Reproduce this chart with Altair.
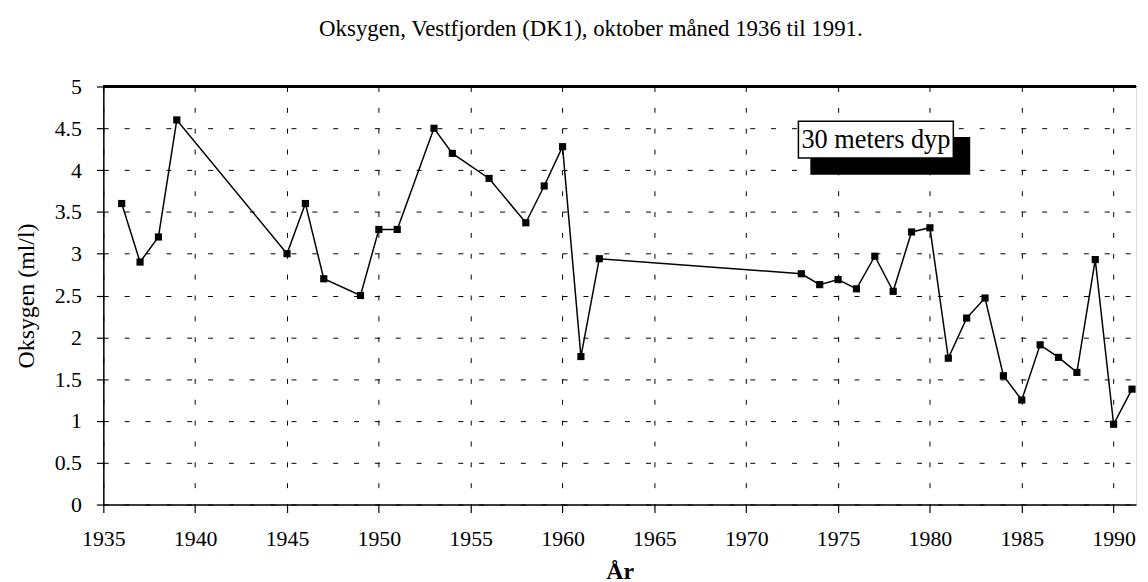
import altair as alt
import pandas as pd

years = [1936, 1937, 1938, 1939, 1945, 1946, 1947, 1949, 1950, 1951, 1953, 1954,
         1956, 1958, 1959, 1960, 1961, 1962, 1973, 1974, 1975, 1976, 1977, 1978,
         1979, 1980, 1981, 1982, 1983, 1984, 1985, 1986, 1987, 1988, 1989, 1990, 1991]
oxygen = [3.6, 2.9, 3.2, 4.6, 3.0, 3.6, 2.7, 2.5, 3.29, 3.29, 4.5, 4.2,
          3.9, 3.37, 3.81, 4.28, 1.77, 2.94, 2.76, 2.63, 2.69, 2.58, 2.97, 2.55,
          3.26, 3.31, 1.75, 2.23, 2.47, 1.54, 1.25, 1.91, 1.76, 1.58, 2.93, 0.96, 1.38]
x_ticks = [1935, 1940, 1945, 1950, 1955, 1960, 1965, 1970, 1975, 1980, 1985, 1990]
y_ticks = [0, 0.5, 1, 1.5, 2, 2.5, 3, 3.5, 4, 4.5, 5]
legend_label = ["30 meters dyp"]

df = pd.DataFrame({"year": years, "oxygen": oxygen})

FONT = "Liberation Serif"
W, H = 1040, 421

x_enc = alt.X("year:Q", title="År",
              scale=alt.Scale(domain=[1935, 1991.22], nice=False, zero=False),
              axis=alt.Axis(values=x_ticks, format="d", grid=True, gridColor="black",
                            gridDash=[5, 16], gridWidth=1, gridOpacity=1,
                            domainColor="black", domainWidth=1.5,
                            tickColor="black", tickSize=8, tickWidth=1.2,
                            labelFont=FONT, labelFontSize=22, labelColor="black",
                            labelPadding=16, labelFlush=False, labelOverlap=False,
                            titleFont=FONT, titleFontSize=24, titleFontWeight="bold",
                            titleColor="black", titlePadding=10))
y_enc = alt.Y("oxygen:Q", title="Oksygen (ml/l)",
              scale=alt.Scale(domain=[0, 5], nice=False),
              axis=alt.Axis(values=y_ticks, format="~g", grid=True, gridColor="black",
                            gridDash=[5, 16], gridWidth=1, gridOpacity=1,
                            domainColor="black", domainWidth=1.5,
                            tickColor="black", tickSize=7, tickWidth=1.2,
                            labelFont=FONT, labelFontSize=22, labelColor="black",
                            labelPadding=15, labelFlush=False, labelOverlap=False,
                            titleFont=FONT, titleFontSize=24, titleFontWeight="normal",
                            titleColor="black", titlePadding=16))

line = alt.Chart(df).mark_line(color="black", strokeWidth=1.5).encode(x=x_enc, y=y_enc)
pts = alt.Chart(df).mark_point(shape="square", filled=True, color="black", size=52,
                               opacity=1).encode(x="year:Q", y="oxygen:Q")

top_border = alt.Chart(df).mark_rule(color="black", strokeWidth=2).encode(
    x=alt.value(0), x2=alt.value(W), y=alt.value(0))

leg = pd.DataFrame({"label": legend_label})
shadow = alt.Chart(leg).mark_rect(color="black").encode(
    x=alt.value(712), x2=alt.value(873), y=alt.value(51), y2=alt.value(89))
box = alt.Chart(leg).mark_rect(fill="white", stroke="black", strokeWidth=1.5).encode(
    x=alt.value(700), x2=alt.value(856), y=alt.value(35), y2=alt.value(72))
text = alt.Chart(leg).mark_text(font=FONT, fontSize=26.5, align="left",
                                baseline="alphabetic", color="black").encode(
    x=alt.value(703), y=alt.value(62), text="label:N")

chart = alt.layer(line, pts, top_border, shadow, box, text).properties(
    width=W, height=H,
    title=alt.TitleParams("Oksygen, Vestfjorden (DK1), oktober måned 1936 til 1991.",
                          font=FONT, fontSize=23, fontWeight="normal", color="black",
                          anchor="middle", dx=-29, offset=35),
    autosize=alt.AutoSizeParams(type="none"),
    padding={"left": 96, "top": 77, "right": 4, "bottom": 78},
).configure_view(stroke=None).configure(background="white")

chart.save("out.html", embed_options={"renderer": "svg", "actions": False})
